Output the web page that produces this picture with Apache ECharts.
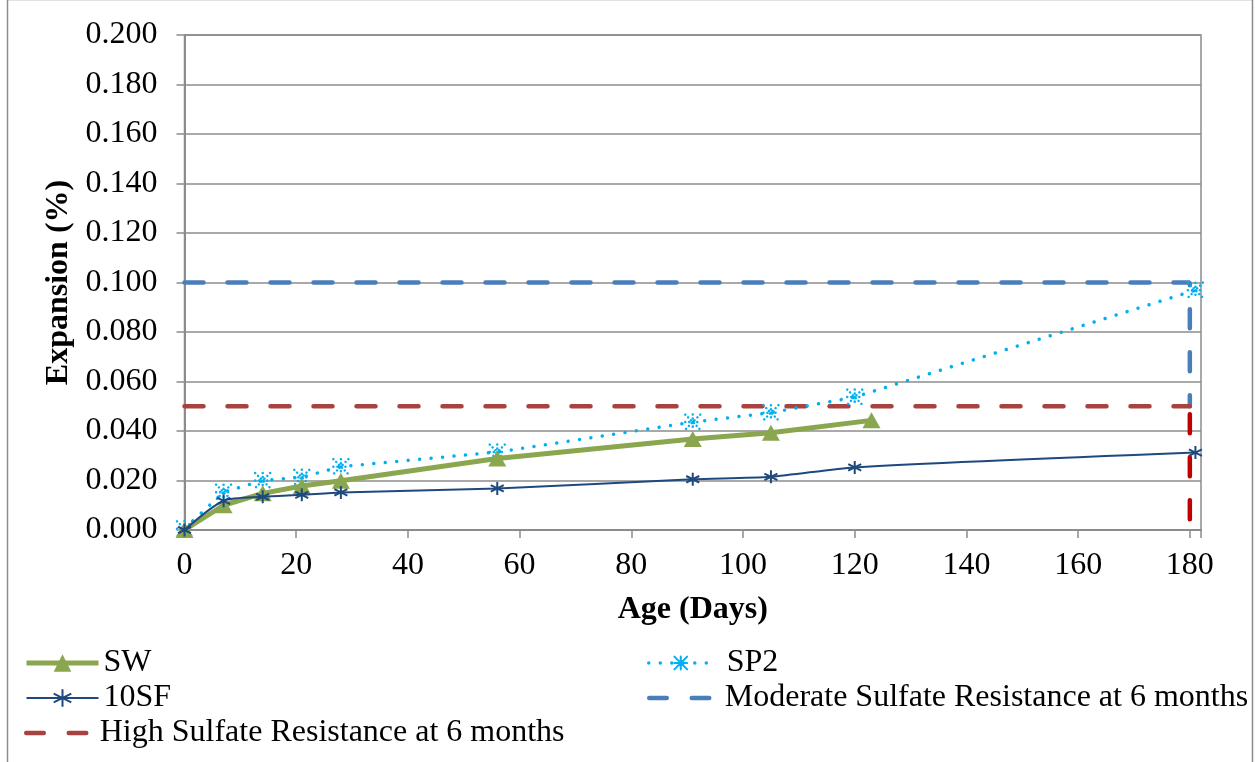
<!DOCTYPE html>
<html><head><meta charset="utf-8">
<script src="https://cdn.jsdelivr.net/npm/echarts@6/dist/echarts.min.js"></script>
<style>html,body{margin:0;padding:0;background:#fff}#c{width:1255px;height:762px}</style>
</head><body><div id="c"></div>
<script>
// ---- data ----
const swDays = [0, 7, 14, 21, 28, 56, 91, 105, 123];
const swVals = [0.000, 0.0100, 0.0148, 0.0178, 0.0199, 0.0289, 0.0368, 0.0393, 0.0443];
const sp2Days = [0, 7, 14, 21, 28, 56, 91, 105, 120, 181];
const sp2Vals = [0.0005, 0.0153, 0.0200, 0.0213, 0.0256, 0.0315, 0.0436, 0.0474, 0.0537, 0.0969];
const sfDays = [0, 7, 14, 21, 28, 56, 91, 105, 120, 181];
const sfVals = [0.000, 0.0118, 0.0134, 0.0142, 0.0152, 0.0168, 0.0205, 0.0215, 0.0253, 0.0313];
const moderateLimit = 0.100;
const highLimit = 0.050;
const limitAge = 180;
const xTicks = [0, 20, 40, 60, 80, 100, 120, 140, 160, 180];

const zip = (a, b) => a.map((v, i) => [v, b[i]]);
const font = 'Liberation Serif, Times New Roman, serif';
const dashIcon = 'path://M2.25 0h17.5a2.25 2.25 0 0 1 0 4.5h-17.5a2.25 2.25 0 0 1 0 -4.5z' +
                 'M44.75 0h17.5a2.25 2.25 0 0 1 0 4.5h-17.5a2.25 2.25 0 0 1 0 -4.5z';
const legText = { fontFamily: font, fontSize: 32, color: '#000' };

const chart = echarts.init(document.getElementById('c'));
chart.setOption({
  animation: false,
  backgroundColor: '#fff',
  graphic: [{
    type: 'rect', left: 5, top: -3, shape: { width: 1245, height: 768 },
    style: { fill: 'none', stroke: '#8c8c8c', lineWidth: 1.5 }, silent: true
  }],
  grid: { left: 184.5, right: 54, top: 35, bottom: 232, show: true, borderColor: '#8c8c8c', borderWidth: 1.5 },
  xAxis: {
    type: 'value', min: 0, max: 182, interval: 20,
    name: 'Age (Days)', nameLocation: 'middle', nameGap: 64,
    nameTextStyle: { fontFamily: font, fontSize: 32, fontWeight: 'bold', color: '#000' },
    axisLine: { show: true, lineStyle: { color: '#8c8c8c', width: 2 } },
    axisTick: { show: true, length: 8, lineStyle: { color: '#8c8c8c', width: 1.5 } },
    axisLabel: { margin: 20, fontFamily: font, fontSize: 32, color: '#000',
      formatter: v => xTicks.includes(v) ? String(v) : '' },
    splitLine: { show: false }
  },
  yAxis: {
    type: 'value', min: 0, max: 0.2, interval: 0.02,
    name: 'Expansion (%)', nameLocation: 'middle', nameGap: 106,
    nameTextStyle: { fontFamily: font, fontSize: 32, fontWeight: 'bold', color: '#000' },
    axisLine: { show: true, lineStyle: { color: '#8c8c8c', width: 2 } },
    axisTick: { show: true, length: 8, lineStyle: { color: '#8c8c8c', width: 1.5 } },
    axisLabel: { margin: 27, fontFamily: font, fontSize: 32, color: '#000',
      formatter: v => v.toFixed(3) },
    splitLine: { show: true, lineStyle: { color: '#8c8c8c', width: 1.5 } }
  },
  legend: [{
    orient: 'vertical', left: 24, top: 647, padding: 0, itemGap: 3, itemWidth: 72, itemHeight: 22,
    lineStyle: { width: 'inherit' },
    textStyle: legText,
    data: ['SW', '10SF']
  }, {
    orient: 'vertical', left: 24, top: 717, padding: 0, itemWidth: 65, itemHeight: 4.5,
    textStyle: Object.assign({ padding: [0, 0, 0, 6] }, legText),
    data: [{ name: 'High Sulfate Resistance at 6 months', icon: dashIcon }]
  }, {
    orient: 'vertical', left: 647, top: 647, padding: 0, itemWidth: 64, itemHeight: 16,
    lineStyle: { width: 'inherit' },
    textStyle: Object.assign({ padding: [0, 0, 0, 9] }, legText),
    data: ['SP2']
  }, {
    orient: 'vertical', left: 647, top: 682, padding: 0, itemWidth: 65, itemHeight: 4.5,
    textStyle: Object.assign({ padding: [0, 0, 0, 8] }, legText),
    data: [{ name: 'Moderate Sulfate Resistance at 6 months', icon: dashIcon }]
  }],
  series: [
    {
      name: 'Moderate Sulfate Resistance at 6 months', type: 'line',
      data: [[0, moderateLimit], [limitAge, moderateLimit], [limitAge, highLimit]],
      showSymbol: false, symbol: 'none', z: 1,
      lineStyle: { color: '#4A7EBB', width: 4.5, type: [19, 24], cap: 'round' },
      itemStyle: { color: '#4A7EBB' }
    },
    {
      name: 'High Sulfate Resistance at 6 months', type: 'line',
      data: [[0, highLimit], [limitAge, highLimit]],
      showSymbol: false, symbol: 'none', z: 1,
      lineStyle: { color: '#A8423F', width: 4.5, type: [19, 24], cap: 'round' },
      itemStyle: { color: '#A8423F' }
    },
    {
      name: 'High limit vertical', type: 'line',
      data: [[limitAge, highLimit], [limitAge, 0]],
      showSymbol: false, symbol: 'none', z: 1,
      lineStyle: { color: '#C00000', width: 4.5, type: [19, 24], cap: 'round', dashOffset: 35 },
      itemStyle: { color: '#C00000' }
    },
    {
      name: 'SP2', type: 'line', data: zip(sp2Days, sp2Vals), z: 3,
      symbol: 'path://M0 0L10 10M10 0L0 10M5 0L5 10M0 5L10 5', symbolSize: 15, showSymbol: true,
      lineStyle: { color: '#00B0F0', width: 3.5, type: [0.01, 11.5], cap: 'round' },
      itemStyle: { color: 'rgba(0,0,0,0)', borderColor: '#00B0F0', borderWidth: 2.5, borderType: [0.01, 4], borderCap: 'round' }
    },
    {
      name: 'SW', type: 'line', data: zip(swDays, swVals), z: 4,
      symbol: 'triangle', symbolSize: [18, 16],
      lineStyle: { color: '#8AA64E', width: 5 },
      itemStyle: { color: '#8AA64E' }
    },
    {
      name: '10SF', type: 'line', data: zip(sfDays, sfVals), z: 5, smooth: 0.25,
      symbol: 'path://M5 0L5 10M0.67 2.5L9.33 7.5M0.67 7.5L9.33 2.5', symbolSize: 13,
      lineStyle: { color: '#1F497D', width: 2 },
      itemStyle: { color: '#1F497D', borderColor: '#1F497D', borderWidth: 2 }
    }
  ]
});
</script></body></html>
